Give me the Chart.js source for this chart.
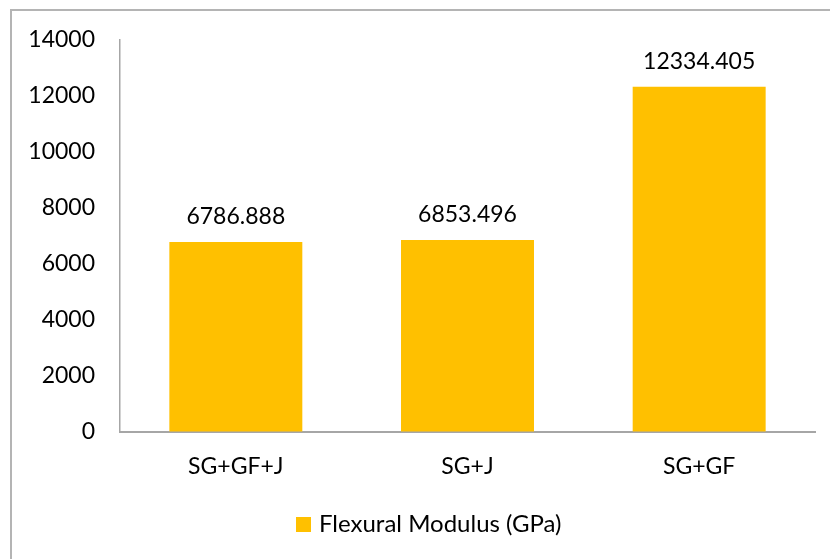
<!DOCTYPE html>
<html>
<head>
<meta charset="utf-8">
<script src="https://cdn.jsdelivr.net/npm/chart.js@4"></script>
<style>
  html, body { margin: 0; padding: 0; background: #fff; overflow: hidden; }
  #wrap { position: relative; width: 830px; height: 559px; }
  #frame { position: absolute; left: 10px; top: 9px; width: 840px; height: 580px; border: 2px solid #b4b4b4; box-sizing: border-box; pointer-events: none; }
  canvas { position: absolute; left: 0; top: 0; }
</style>
</head>
<body>
<div id="wrap">
  <canvas id="c" width="830" height="559"></canvas>
  <div id="frame"></div>
</div>
<script>
const categories = ["SG+GF+J", "SG+J", "SG+GF"];
const seriesName = "Flexural Modulus (GPa)";
const flexuralModulus = [6786.888, 6853.496, 12334.405];
const valueLabels = ["6786.888", "6853.496", "12334.405"];
const yTicks = [0, 2000, 4000, 6000, 8000, 10000, 12000, 14000];

const FONT = "Lato";
const FS = 23;
const TEXT = "#000000";
const BAR_COLOR = "#FFC000";

const dataLabelPlugin = {
  id: "dataLabels",
  afterDatasetsDraw(chart) {
    const ctx = chart.ctx;
    const meta = chart.getDatasetMeta(0);
    ctx.save();
    ctx.font = FS + "px " + FONT;
    ctx.fillStyle = TEXT;
    ctx.textAlign = "center";
    ctx.textBaseline = "alphabetic";
    meta.data.forEach((bar, i) => {
      ctx.fillText(valueLabels[i], bar.x, bar.y - 18);
    });
    ctx.restore();
  }
};

const legendPlugin = {
  id: "customLegend",
  afterDraw(chart) {
    const ctx = chart.ctx;
    const ds = chart.data.datasets[0];
    ctx.save();
    ctx.fillStyle = ds.backgroundColor;
    ctx.fillRect(296, 517, 15, 15);
    ctx.font = "24px " + FONT;
    ctx.fillStyle = TEXT;
    ctx.textAlign = "left";
    ctx.textBaseline = "middle";
    ctx.fillText(ds.label, 319, 524.5);
    ctx.restore();
  }
};

new Chart(document.getElementById("c"), {
  type: "bar",
  data: {
    labels: categories,
    datasets: [{
      label: seriesName,
      data: flexuralModulus,
      backgroundColor: BAR_COLOR,
      borderWidth: 0,
      barPercentage: 0.574,
      categoryPercentage: 1.0
    }]
  },
  options: {
    responsive: false,
    animation: false,
    devicePixelRatio: 1,
    layout: { padding: { top: 40, right: 15, bottom: 56.5, left: 0 } },
    plugins: {
      tooltip: { enabled: false },
      legend: { display: false }
    },
    scales: {
      x: {
        grid: { display: true, drawOnChartArea: false, drawTicks: false },
        border: { display: true, color: "#a6a6a6", width: 2 },
        ticks: { color: TEXT, padding: 21, font: { family: FONT, size: FS } },
        afterFit(scale) { scale.height = 70.5; }
      },
      y: {
        min: 0, max: 14000,
        afterBuildTicks(scale) { scale.ticks = yTicks.map(v => ({ value: v })); },
        grid: { display: true, drawOnChartArea: false, drawTicks: false },
        border: { display: true, color: "#a6a6a6", width: 1.5 },
        ticks: { color: TEXT, padding: 25, font: { family: FONT, size: FS }, callback: v => String(v) },
        afterFit(scale) { scale.width = 120; }
      }
    }
  },
  plugins: [dataLabelPlugin, legendPlugin]
});
</script>
</body>
</html>
